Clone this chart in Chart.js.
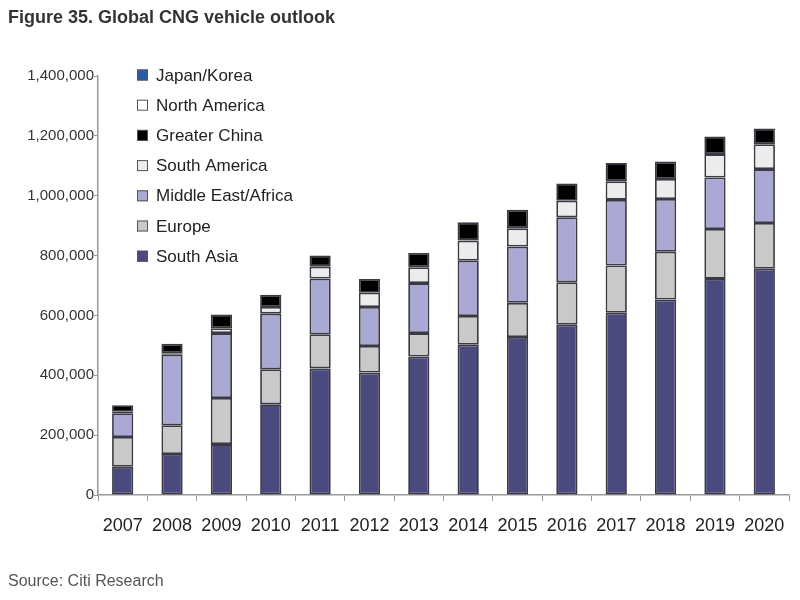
<!DOCTYPE html>
<html>
    <head>
        <script src="https://cdn.jsdelivr.net/npm/chart.js@4.4.0/dist/chart.umd.min.js"></script>
        <style>
            body { margin: 0; background: #fff; }
        </style>
    </head>
    <body>
        <div>
            <canvas id="myChart" width="800" height="600"></canvas>
        </div>

        <script>
            // DATA
            const years = ['2007','2008','2009','2010','2011','2012','2013','2014','2015','2016','2017','2018','2019','2020'];
            const southAsia     = [94000,137000,170000,303000,423000,409000,463000,502000,528000,569000,609000,653000,722000,756000];
            const europe        = [100000,96000,154000,117000,114000,89000,78000,96000,114000,142000,158000,160000,167000,153000];
            const middleEast    = [79000,236000,217000,186000,186000,130000,167000,185000,188000,217000,219000,176000,172000,180000];
            const southAmerica  = [5000,5000,16000,22000,40000,48000,53000,67000,61000,55000,62000,67000,78000,83000];
            const greaterChina  = [22000,31000,46000,41000,37000,46000,48000,61000,62000,58000,61000,58000,59000,53000];
            const northAmerica  = [0,0,0,0,0,0,0,0,0,0,0,0,0,0];
            const japanKorea    = [0,0,0,0,0,0,0,0,0,0,0,0,0,0];
            const yTicks = [0,200000,400000,600000,800000,1000000,1200000,1400000];

            const titleText = 'Figure 35. Global CNG vehicle outlook';
            const sourceText = 'Source: Citi Research';

            // SETUP
            function ds(label, values, color) {
                return {
                    label: label,
                    data: values,
                    backgroundColor: color,
                    borderColor: '#3a3a44',
                    borderWidth: 1.8,
                    borderSkipped: false,
                    barPercentage: 0.43,
                    categoryPercentage: 1
                };
            }

            const data = {
                labels: years,
                datasets: [
                    ds('South Asia', southAsia, '#4a4a7e'),
                    ds('Europe', europe, '#c9c9c9'),
                    ds('Middle East/Africa', middleEast, '#a9a9d3'),
                    ds('South America', southAmerica, '#ececec'),
                    ds('Greater China', greaterChina, '#000000'),
                    ds('North America', northAmerica, '#ffffff'),
                    ds('Japan/Korea', japanKorea, '#2a5ca8')
                ]
            };

            // legend drawn inside the plot, top entry = top of stack
            const insideLegend = {
                id: 'insideLegend',
                afterDraw(chart) {
                    const ctx = chart.ctx;
                    const sets = chart.data.datasets.slice().reverse();
                    ctx.save();
                    ctx.font = '17px "Liberation Sans", Arial, sans-serif';
                    ctx.textBaseline = 'middle';
                    sets.forEach((d, i) => {
                        const y = 75 + i * 30.2;
                        ctx.fillStyle = d.backgroundColor;
                        ctx.fillRect(137, y - 5.5, 11, 11);
                        ctx.strokeStyle = '#555';
                        ctx.lineWidth = 1;
                        ctx.strokeRect(137.5, y - 5, 10, 10);
                        ctx.fillStyle = '#222';
                        ctx.fillText(d.label, 156, y + 1);
                    });
                    ctx.restore();
                }
            };

            const texts = {
                id: 'texts',
                afterDraw(chart) {
                    const ctx = chart.ctx;
                    ctx.save();
                    ctx.textBaseline = 'middle';
                    ctx.fillStyle = '#333';
                    ctx.font = 'bold 18px "Liberation Sans", Arial, sans-serif';
                    ctx.fillText(titleText, 8, 18);
                    ctx.fillStyle = '#555';
                    ctx.font = '16px "Liberation Sans", Arial, sans-serif';
                    ctx.fillText(sourceText, 8, 582);
                    ctx.restore();
                }
            };

            // CONFIG
            const config = {
                type: 'bar',
                data,
                options: {
                    responsive: false,
                    animation: false,
                    layout: { padding: { top: 76, left: 0, right: 11, bottom: 0 } },
                    plugins: {
                        legend: { display: false },
                        tooltip: { enabled: false }
                    },
                    scales: {
                        x: {
                            stacked: true,
                            grid: { display: true, drawOnChartArea: false, tickLength: 6, color: '#999' },
                            border: { display: true, color: '#999', width: 1.5 },
                            ticks: { padding: 14, color: '#222', font: { family: '"Liberation Sans", Arial', size: 18 } },
                            afterFit: s => { s.height = 105; }
                        },
                        y: {
                            stacked: true,
                            min: 0,
                            max: 1400000,
                            afterBuildTicks: s => { s.ticks = yTicks.map(v => ({ value: v })); },
                            grid: { display: true, drawOnChartArea: false, tickLength: 4, color: '#999' },
                            border: { display: true, color: '#999', width: 1.5 },
                            ticks: {
                                padding: 0,
                                color: '#333',
                                font: { family: '"Liberation Sans", Arial', size: 15 },
                                callback: v => v.toLocaleString('en-US')
                            },
                            afterFit: s => { s.width = 98; }
                        }
                    }
                },
                plugins: [insideLegend, texts]
            };

            // RENDER
            const myChart = new Chart(
                document.getElementById('myChart'),
                config
                );
        </script>
    </body>
</html>
